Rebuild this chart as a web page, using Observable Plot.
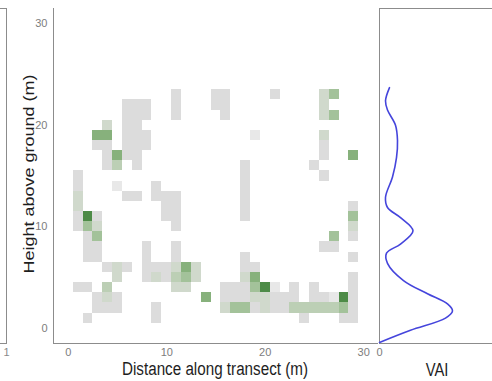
<!DOCTYPE html>
<html><head><meta charset="utf-8">
<script src="https://cdn.jsdelivr.net/npm/d3@7"></script>
<script src="https://cdn.jsdelivr.net/npm/@observablehq/plot@0.6"></script>
<style>
html,body{margin:0;padding:0;background:#fff;}
#wrap{position:relative;width:492px;height:381px;overflow:hidden;font-family:"Liberation Sans",Arial,sans-serif;background:#fff;}
.p{position:absolute;top:0;}
.title{position:absolute;color:#1e1e1e;font-size:18px;white-space:nowrap;line-height:1;}
</style></head><body><div id="wrap"></div>
<script>
// axis ticks and domains
const xTicks = [0, 10, 20, 30];
const yTicks = [0, 10, 20, 30];
const xDomain = [-1.5, 31.5];
const yDomain = [-1.5, 31.5];
// density levels -> colours
const densityLevels = [1, 2, 3, 4, 5, 6, 7, 8];
const densityColors = ["#e8e8e8", "#dcdcdc", "#d0d9cc", "#bccfb5", "#a3c29a", "#87b17c", "#6a9e61", "#4d8b47"];
// voxel cells: [distance, height, density level]
const cells = [
  [6,22,2],[7,22,2],[8,22,2],[6,21,2],[7,21,2],[8,21,2],[6,20,2],[7,20,2],
  [6,19,2],[7,19,2],[8,19,2],[6,18,2],[7,18,2],[8,18,2],[6,17,2],[7,17,2],[7,16,2],
  [4,20,3],[3,19,6],[4,19,6],[3,18,2],[4,18,2],[4,17,2],[5,17,6],[4,16,2],[5,16,4],
  [1,15,2],[1,14,2],[1,13,3],[1,12,3],[1,11,2],[1,10,2],
  [5,14,1],[6,13,2],[7,13,2],[9,14,2],[9,13,2],
  [10,13,2],[11,13,2],[10,12,2],[11,12,2],[10,11,2],[11,11,2],[11,10,2],
  [11,23,2],[11,22,2],[11,21,2],[15,23,2],[16,23,2],[15,22,2],[16,22,2],[16,21,2],
  [19,19,1],[21,23,2],
  [26,23,3],[27,23,5],[26,22,3],[26,21,3],[27,21,5],
  [26,19,3],[26,18,2],[26,17,2],[25,16,2],[26,15,2],[29,17,6],
  [18,16,2],[18,15,2],[18,14,2],[18,13,2],[18,12,2],[18,11,2],
  [2,11,8],[2,10,5],[2,9,2],[2,8,2],[2,7,2],
  [3,11,2],[3,10,3],[3,9,5],[3,8,2],[3,7,2],
  [4,6,2],[5,6,3],[6,6,2],[5,5,3],
  [1,4,2],[2,4,2],[4,4,4],
  [3,3,2],[4,3,3],[5,3,2],[3,2,2],[4,2,2],[5,2,2],[2,1,2],
  [8,8,2],[8,7,2],[8,6,2],[8,5,2],[9,6,2],[9,5,3],[9,2,2],[9,1,2],
  [10,6,2],[10,5,2],[11,8,2],[11,7,2],[11,6,3],[11,5,4],[12,6,6],[12,5,5],[13,6,3],[13,5,3],
  [11,4,3],[12,4,3],[14,3,6],
  [16,4,2],[16,3,2],[16,2,3],[17,4,2],[17,3,2],[17,2,5],
  [18,7,2],[18,6,2],[18,5,3],[18,4,2],[18,3,2],[18,2,5],
  [19,6,2],[19,5,6],[19,4,5],[19,3,3],[19,2,2],
  [20,4,8],[20,3,3],[20,2,3],[21,4,1],[21,3,2],[21,2,2],[22,3,2],[22,2,2],
  [23,4,2],[23,3,2],[23,2,4],[24,2,4],[24,1,2],[25,4,2],[25,3,2],[25,2,4],
  [26,3,2],[26,2,4],[27,3,1],[27,2,4],[28,3,8],[28,2,5],[28,1,2],
  [29,5,2],[29,4,2],[29,3,2],[29,2,2],[29,1,2],
  [29,7,2],[29,12,2],[29,11,5],[29,10,3],[29,9,2],
  [26,8,2],[27,8,2],[27,9,5]
];
// VAI vertical profile
const vaiHeight = [23.7, 22.4, 21.5, 20.0, 18.5, 16.8, 14.9, 12.9, 11.9, 10.9, 9.6, 8.3, 7.4, 6.4, 4.7, 3.4, 2.4, 1.7, 1.0, -0.2, -1.4];
const vaiValue  = [0.10, 0.06, 0.08, 0.16, 0.18, 0.17, 0.13, 0.06, 0.08, 0.21, 0.335, 0.21, 0.07, 0.08, 0.24, 0.48, 0.68, 0.73, 0.66, 0.31, 0.00];
const vaiTicks = [0];
const vaiDomain = [0, 1.19];
const leftTicks = [1];
const leftDomain = [0, 1];

const font = "'Liberation Sans', Arial, sans-serif";
const axisGray = "#8c8c8c";
const fmt = d => String(d);
const wrap = document.getElementById("wrap");

function place(svg, left) {
  svg.classList.add("p");
  svg.style.left = left + "px";
  wrap.appendChild(svg);
}

// partial left panel
const leftPanel = Plot.plot({
  width: 100, height: 381, marginLeft: 0, marginRight: 0, marginTop: 8, marginBottom: 38,
  x: {domain: leftDomain, ticks: leftTicks, tickFormat: fmt, tickSize: 0, tickPadding: 5, label: null},
  y: {axis: null, domain: yDomain},
  style: {fontFamily: font, fontSize: "11px", color: "#8a8a8a", background: "transparent", overflow: "visible"},
  marks: [Plot.frame({stroke: axisGray})]
});
place(leftPanel, -94);

// main voxel panel
const main = Plot.plot({
  width: 378, height: 381, marginLeft: 53, marginRight: 0, marginTop: 8, marginBottom: 38,
  x: {domain: xDomain, ticks: xTicks, tickFormat: fmt, tickSize: 0, tickPadding: 5, label: null},
  y: {domain: yDomain, ticks: yTicks, tickFormat: fmt, tickSize: 0, tickPadding: 6, label: null},
  color: {type: "linear", domain: densityLevels, range: densityColors},
  style: {fontFamily: font, fontSize: "11px", color: "#7d7d7d", background: "transparent"},
  marks: [
    Plot.rect(cells, {
      x1: d => d[0] - 0.5, x2: d => d[0] + 0.5,
      y1: d => d[1] - 0.5, y2: d => d[1] + 0.5,
      fill: d => d[2], shapeRendering: "crispEdges"
    }),
    Plot.ruleX([xDomain[0]], {stroke: axisGray}),
    Plot.ruleY([yDomain[0]], {stroke: axisGray})
  ]
});
place(main, 0);

// VAI profile panel
const vai = Plot.plot({
  width: 120, height: 381, marginLeft: 1, marginRight: 0, marginTop: 8, marginBottom: 38,
  x: {domain: vaiDomain, ticks: vaiTicks, tickFormat: fmt, tickSize: 0, tickPadding: 5, label: null},
  y: {axis: null, domain: yDomain},
  style: {fontFamily: font, fontSize: "11px", color: "#7d7d7d", background: "transparent", overflow: "visible"},
  marks: [
    Plot.frame({stroke: axisGray}),
    Plot.line(vaiHeight, {x: (d, i) => vaiValue[i], y: d => d, curve: "catmull-rom", stroke: "#4545dc", strokeWidth: 1.6})
  ]
});
place(vai, 378);

function title(text, x, y, transform) {
  const el = document.createElement("div");
  el.className = "title";
  el.textContent = text;
  el.style.left = x + "px";
  el.style.top = y + "px";
  el.style.transform = transform;
  wrap.appendChild(el);
}
title("Distance along transect (m)", 215, 369, "translate(-50%,-50%) scaleX(0.845)");
title("Height above ground (m)", 29, 174, "translate(-50%,-50%) scaleX(0.85) rotate(-90deg)");
title("VAI", 437, 370, "translate(-50%,-50%) scaleX(0.82)");
</script></body></html>
